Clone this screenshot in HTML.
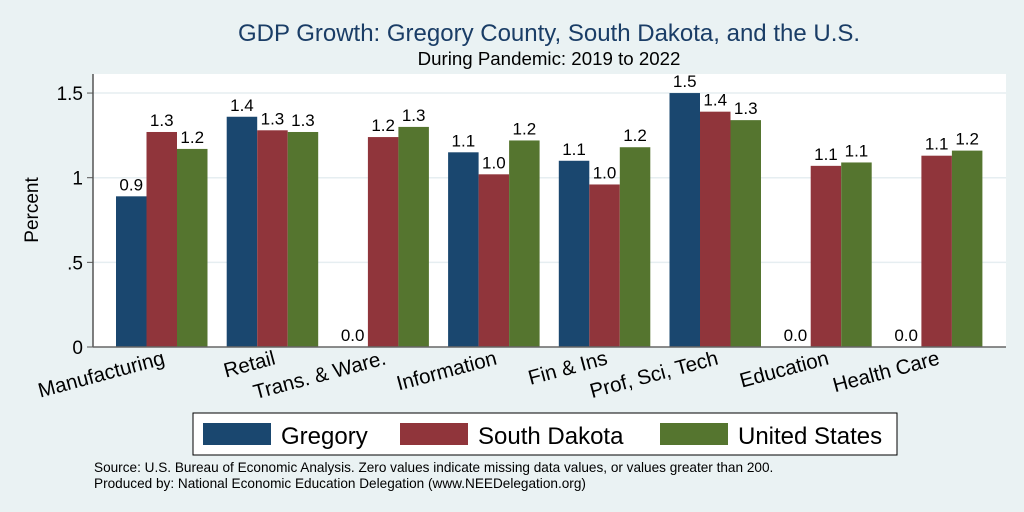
<!DOCTYPE html>
<html><head><meta charset="utf-8"><style>
body{margin:0;background:#eaf2f3;}
svg{display:block;font-family:"Liberation Sans",sans-serif;}
</style></head><body>
<svg id="chart" width="1024" height="512">
<rect x="0" y="0" width="1024" height="512" fill="#eaf2f3"/>
<text x="549" y="41" font-size="24" fill="#1a3d66" text-anchor="middle">GDP Growth: Gregory County, South Dakota, and the U.S.</text>
<text x="549" y="65" font-size="18.7" fill="#000" text-anchor="middle">During Pandemic: 2019 to 2022</text>
<rect x="93" y="74" width="913" height="273" fill="#fff"/>
<g id="grid"></g><g id="bars"></g><g id="axes"></g>
<text transform="translate(38,210) rotate(-90)" font-size="19" text-anchor="middle">Percent</text>
<rect x="193" y="413" width="704" height="42" fill="#fff" stroke="#000" stroke-width="1"/>
<g><rect x="203" y="423" width="68" height="22" fill="#1a476f"/><text x="281" y="444" font-size="24">Gregory</text></g>
<g><rect x="400" y="423" width="68" height="22" fill="#90353b"/><text x="478" y="444" font-size="24">South Dakota</text></g>
<g><rect x="660" y="423" width="68" height="22" fill="#55752f"/><text x="738" y="444" font-size="24">United States</text></g>
<text x="94" y="472" font-size="13.6">Source: U.S. Bureau of Economic Analysis. Zero values indicate missing data values, or values greater than 200.</text>
<text x="94" y="488" font-size="13.6">Produced by: National Economic Education Delegation (www.NEEDelegation.org)</text>
</svg>
<script>
const categories=["Manufacturing","Retail","Trans. & Ware.","Information","Fin & Ins","Prof, Sci, Tech","Education","Health Care"];
const gregory=[0.89,1.36,0,1.15,1.10,1.50,0,0];
const southDakota=[1.27,1.28,1.24,1.02,0.96,1.39,1.07,1.13];
const unitedStates=[1.17,1.27,1.30,1.22,1.18,1.34,1.09,1.16];
const yTicks=[0,0.5,1,1.5];
const yTickLabels=["0",".5","1","1.5"];
const NS="http://www.w3.org/2000/svg";
const y0=347,pxPer=169.3,x0=116,gap=110.7,bw=30.5;
const y=v=>y0-v*pxPer;
const gx=i=>x0+i*gap;
function mk(tag,attrs,parent){const e=document.createElementNS(NS,tag);for(const k in attrs)e.setAttribute(k,attrs[k]);parent.appendChild(e);return e;}
const grid=document.getElementById('grid'),bars=document.getElementById('bars'),axes=document.getElementById('axes');
yTicks.forEach((t,i)=>{
 if(t>0){const g=mk('line',{x1:93,x2:1006,y1:y(t),y2:y(t),stroke:'#e6eef1','stroke-width':1.5},grid);
 
 }
 const tk=mk('line',{x1:87,x2:93,y1:y(t),y2:y(t),stroke:'#555'},axes);
 
 
 const tl=mk('text',{x:83,y:y(t)+7,'font-size':19,'text-anchor':'end'},axes);tl.textContent=yTickLabels[i];
 
 
});
const series=[[gregory,'#1a476f','gregory'],[southDakota,'#90353b','south-dakota'],[unitedStates,'#55752f','united-states']];
categories.forEach((c,i)=>{
 series.forEach(([arr,col,nm],s)=>{
  const v=arr[i],x=gx(i)+s*bw;
  if(v>0){const r=mk('rect',{x:x,y:y(v),width:bw,height:y0-y(v),fill:col},bars);
  
  }
  const t=mk('text',{x:x+bw/2,y:y(v)-6,'font-size':17,'text-anchor':'middle'},bars);t.textContent=v.toFixed(1);
  
  
 });
 const cx=gx(i)+1.5*bw+4;
 const l=mk('text',{transform:`translate(${cx},${y0+17}) rotate(-15)`,'font-size':20.5,'text-anchor':'end'},axes);l.textContent=c;
 
 
});
const ya=mk('line',{x1:93,x2:93,y1:74,y2:347,stroke:'#555','stroke-width':1.5},axes);


const xa=mk('line',{x1:93,x2:1006,y1:347,y2:347,stroke:'#666','stroke-width':1.5},axes);


</script>
</body></html>
